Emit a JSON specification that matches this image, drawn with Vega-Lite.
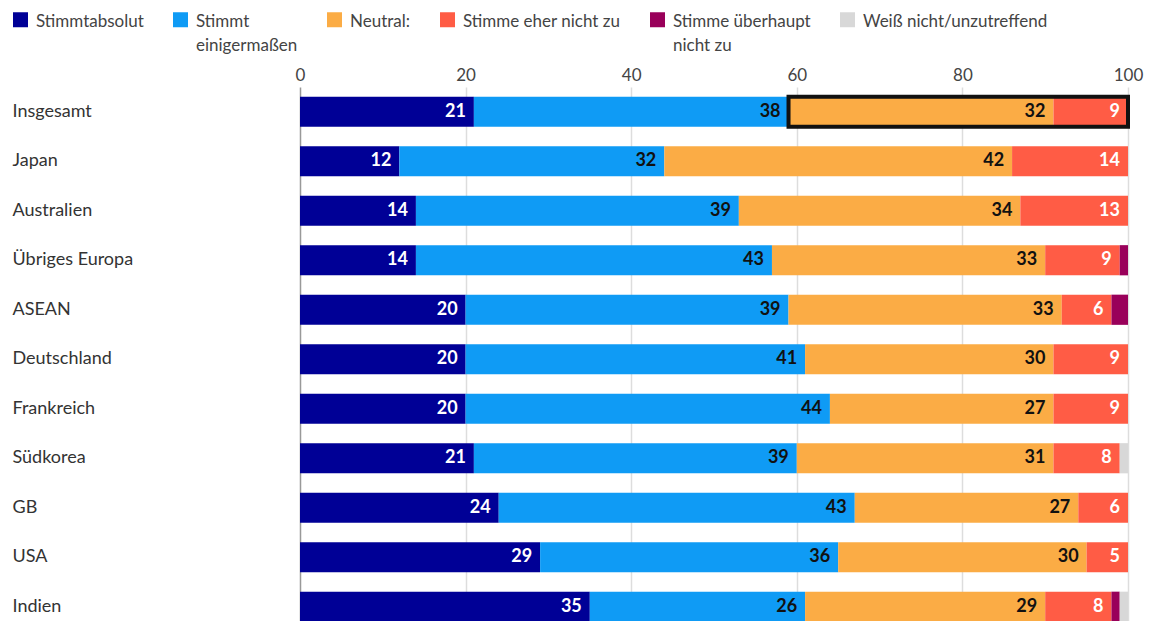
{
  "$schema": "https://vega.github.io/schema/vega-lite/v6.json",
  "width": 828,
  "height": 544.5,
  "autosize": {"type": "none"},
  "padding": {"left": 300, "top": 87, "right": 27, "bottom": 0},
  "background": "white",
  "config": {"font": "Lato", "view": {"stroke": null}},
  "data": {"values": [
    {"land": "Insgesamt", "antwort": "Stimmtabsolut", "wert": 21},
    {"land": "Insgesamt", "antwort": "Stimmt einigermaßen", "wert": 38},
    {"land": "Insgesamt", "antwort": "Neutral:", "wert": 32},
    {"land": "Insgesamt", "antwort": "Stimme eher nicht zu", "wert": 9},
    {"land": "Japan", "antwort": "Stimmtabsolut", "wert": 12},
    {"land": "Japan", "antwort": "Stimmt einigermaßen", "wert": 32},
    {"land": "Japan", "antwort": "Neutral:", "wert": 42},
    {"land": "Japan", "antwort": "Stimme eher nicht zu", "wert": 14},
    {"land": "Australien", "antwort": "Stimmtabsolut", "wert": 14},
    {"land": "Australien", "antwort": "Stimmt einigermaßen", "wert": 39},
    {"land": "Australien", "antwort": "Neutral:", "wert": 34},
    {"land": "Australien", "antwort": "Stimme eher nicht zu", "wert": 13},
    {"land": "Übriges Europa", "antwort": "Stimmtabsolut", "wert": 14},
    {"land": "Übriges Europa", "antwort": "Stimmt einigermaßen", "wert": 43},
    {"land": "Übriges Europa", "antwort": "Neutral:", "wert": 33},
    {"land": "Übriges Europa", "antwort": "Stimme eher nicht zu", "wert": 9},
    {"land": "Übriges Europa", "antwort": "Stimme überhaupt nicht zu", "wert": 1},
    {"land": "ASEAN", "antwort": "Stimmtabsolut", "wert": 20},
    {"land": "ASEAN", "antwort": "Stimmt einigermaßen", "wert": 39},
    {"land": "ASEAN", "antwort": "Neutral:", "wert": 33},
    {"land": "ASEAN", "antwort": "Stimme eher nicht zu", "wert": 6},
    {"land": "ASEAN", "antwort": "Stimme überhaupt nicht zu", "wert": 2},
    {"land": "Deutschland", "antwort": "Stimmtabsolut", "wert": 20},
    {"land": "Deutschland", "antwort": "Stimmt einigermaßen", "wert": 41},
    {"land": "Deutschland", "antwort": "Neutral:", "wert": 30},
    {"land": "Deutschland", "antwort": "Stimme eher nicht zu", "wert": 9},
    {"land": "Frankreich", "antwort": "Stimmtabsolut", "wert": 20},
    {"land": "Frankreich", "antwort": "Stimmt einigermaßen", "wert": 44},
    {"land": "Frankreich", "antwort": "Neutral:", "wert": 27},
    {"land": "Frankreich", "antwort": "Stimme eher nicht zu", "wert": 9},
    {"land": "Südkorea", "antwort": "Stimmtabsolut", "wert": 21},
    {"land": "Südkorea", "antwort": "Stimmt einigermaßen", "wert": 39},
    {"land": "Südkorea", "antwort": "Neutral:", "wert": 31},
    {"land": "Südkorea", "antwort": "Stimme eher nicht zu", "wert": 8},
    {"land": "Südkorea", "antwort": "Weiß nicht/unzutreffend", "wert": 1},
    {"land": "GB", "antwort": "Stimmtabsolut", "wert": 24},
    {"land": "GB", "antwort": "Stimmt einigermaßen", "wert": 43},
    {"land": "GB", "antwort": "Neutral:", "wert": 27},
    {"land": "GB", "antwort": "Stimme eher nicht zu", "wert": 6},
    {"land": "USA", "antwort": "Stimmtabsolut", "wert": 29},
    {"land": "USA", "antwort": "Stimmt einigermaßen", "wert": 36},
    {"land": "USA", "antwort": "Neutral:", "wert": 30},
    {"land": "USA", "antwort": "Stimme eher nicht zu", "wert": 5},
    {"land": "Indien", "antwort": "Stimmtabsolut", "wert": 35},
    {"land": "Indien", "antwort": "Stimmt einigermaßen", "wert": 26},
    {"land": "Indien", "antwort": "Neutral:", "wert": 29},
    {"land": "Indien", "antwort": "Stimme eher nicht zu", "wert": 8},
    {"land": "Indien", "antwort": "Stimme überhaupt nicht zu", "wert": 1},
    {"land": "Indien", "antwort": "Weiß nicht/unzutreffend", "wert": 1}
  ]},
  "transform": [
    {"calculate": "indexof(['Stimmtabsolut','Stimmt einigermaßen','Neutral:','Stimme eher nicht zu','Stimme überhaupt nicht zu','Weiß nicht/unzutreffend'], datum.antwort)", "as": "k"},
    {"stack": "wert", "groupby": ["land"], "sort": [{"field": "k", "order": "ascending"}], "as": ["x0", "x1"]}
  ],
  "encoding": {
    "y": {
      "field": "land", "type": "nominal",
      "sort": ["Insgesamt", "Japan", "Australien", "Übriges Europa", "ASEAN", "Deutschland", "Frankreich", "Südkorea", "GB", "USA", "Indien"],
      "scale": {"paddingInner": 0.39, "paddingOuter": 0.195},
      "axis": {"title": null, "labelAlign": "left", "labelPadding": 288, "ticks": false, "domain": false, "labelFontSize": 18, "labelColor": "#333", "labelLimit": 300}
    }
  },
  "layer": [
    {
      "mark": {"type": "bar"},
      "encoding": {
        "x": {
          "field": "x0", "type": "quantitative",
          "scale": {"domain": [0, 100], "nice": false},
          "axis": {"orient": "top", "title": null, "values": [0, 20, 40, 60, 80, 100], "ticks": false, "domain": false, "labelFontSize": 17, "labelColor": "#444", "labelPadding": 3, "labelFlush": false, "grid": true, "gridColor": {"condition": {"test": "datum.value === 0", "value": "#999"}, "value": "#ddd"}, "gridWidth": 1.5}
        },
        "x2": {"field": "x1"},
        "color": {
          "field": "antwort", "type": "nominal",
          "scale": {
            "domain": ["Stimmtabsolut", "Stimmt einigermaßen", "Neutral:", "Stimme eher nicht zu", "Stimme überhaupt nicht zu", "Weiß nicht/unzutreffend"],
            "range": ["#000096", "#0F9BF5", "#FBAC45", "#FF5C45", "#99005A", "#D8D8D8"]
          },
          "legend": {
            "orient": "none", "legendX": -288, "legendY": -76, "direction": "horizontal", "title": null,
            "symbolType": "square", "symbolSize": 225, "symbolStrokeWidth": 0, "symbolOpacity": 1,
            "labelFontSize": 17, "labelColor": "#444", "labelOffset": 7, "columnPadding": 28, "labelLimit": 300,
            "labelBaseline": "top",
            "labelExpr": "datum.label == 'Stimmt einigermaßen' ? ['Stimmt', 'einigermaßen'] : datum.label == 'Stimme überhaupt nicht zu' ? ['Stimme überhaupt', 'nicht zu'] : [datum.label, '']",
            "encode": {"labels": {"update": {"dy": {"value": -6}, "lineHeight": {"value": 24}}}}
          }
        }
      }
    },
    {
      "transform": [
        {"filter": "datum.land == 'Insgesamt' && datum.k >= 2 && datum.k <= 3"},
        {"aggregate": [{"op": "min", "field": "x0", "as": "a"}, {"op": "max", "field": "x1", "as": "b"}], "groupby": ["land"]}
      ],
      "mark": {"type": "bar", "fill": "transparent", "stroke": "#111", "strokeWidth": 4},
      "encoding": {
        "x": {"field": "a", "type": "quantitative", "title": null},
        "x2": {"field": "b"}
      }
    },
    {
      "transform": [{"filter": "datum.wert >= 4"}],
      "mark": {"type": "text", "align": "right", "baseline": "middle", "dx": -8, "fontSize": 18, "fontWeight": "bold"},
      "encoding": {
        "x": {"field": "x1", "type": "quantitative", "title": null},
        "text": {"field": "wert", "type": "quantitative"},
        "color": {"condition": {"test": "datum.antwort == 'Stimmtabsolut' || datum.antwort == 'Stimme eher nicht zu'", "value": "white"}, "value": "#111"}
      }
    }
  ]
}
